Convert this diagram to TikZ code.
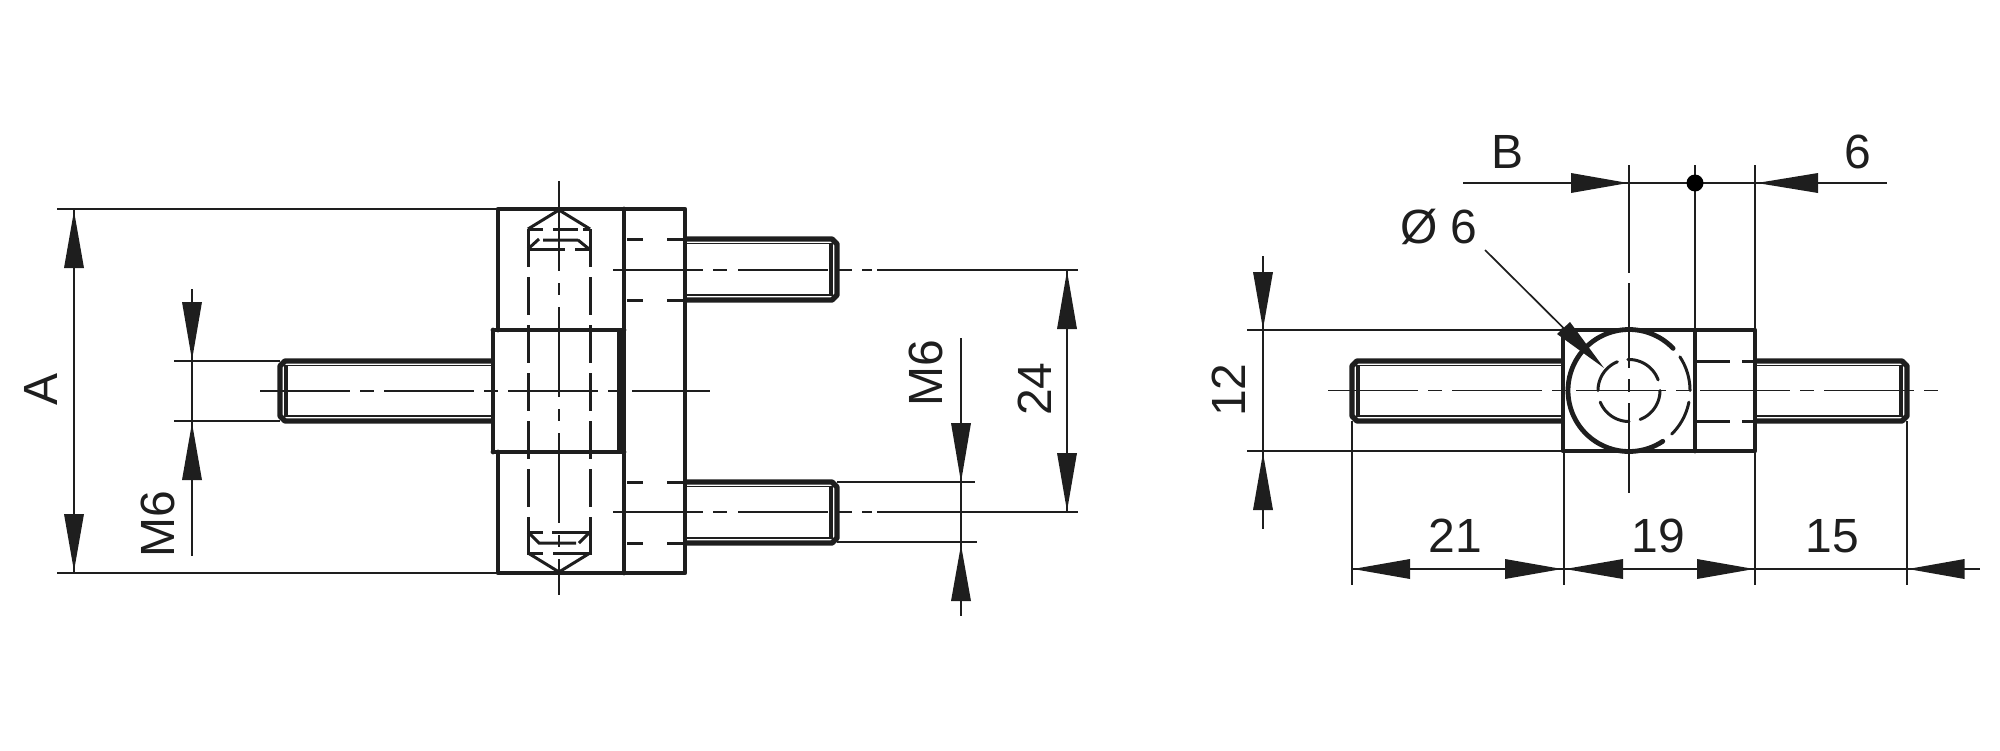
\documentclass[tikz,border=0pt]{standalone}
\usepackage{fontspec}
\setmainfont{Liberation Sans}
\definecolor{ink}{HTML}{1E1E1E}
\tikzset{
  thick line/.style={line width=4.8pt,line cap=round,line join=round,draw=ink},
  stud line/.style={line width=5.4pt,line cap=butt,line join=round,draw=ink},
  thin line/.style={line width=1.7pt,draw=ink},
  hidden line/.style={line width=3pt,draw=ink},
  hidden dash/.style={line width=3pt,draw=ink,dash pattern=on 38pt off 10pt},
  center line/.style={line width=1.7pt,draw=ink,dash pattern=on 90pt off 10pt on 14pt off 10pt},
  label/.style={font=\fontsize{48}{48}\selectfont,text=ink,inner sep=0pt}
}
\newcommand{\varrow}[3]{\fill[ink] (#1,#2) -- (#1-10,#3) -- (#1+10,#3) -- cycle;}
\newcommand{\harrow}[3]{\fill[ink] (#1,#3) -- (#2,#3-10) -- (#2,#3+10) -- cycle;}
% right-pointing stud: root x, end x, top y, bottom y
\newcommand{\rstud}[4]{
  \draw[thin line] (#1,#3+4.5) -- (#2-6,#3+4.5) (#1,#4-5) -- (#2-6,#4-5);
  \draw[line width=3.5pt,draw=ink] (#2-6,#3+4) -- (#2-6,#4-4);
  \draw[stud line] (#1,#3) -- (#2-5,#3) -- (#2,#3+5) -- (#2,#4-5) -- (#2-5,#4) -- (#1,#4);
}
\newcommand{\lstud}[4]{
  \draw[thin line] (#1,#3+4.5) -- (#2+6,#3+4.5) (#1,#4-5) -- (#2+6,#4-5);
  \draw[line width=3.5pt,draw=ink] (#2+6,#3+4) -- (#2+6,#4-4);
  \draw[stud line] (#1,#3) -- (#2+5,#3) -- (#2,#3+5) -- (#2,#4-5) -- (#2+5,#4) -- (#1,#4);
}
\begin{document}
\begin{tikzpicture}[x=1pt,y=-1pt]
\useasboundingbox (0,0) rectangle (2000,750);
% ---------- left view ----------
\draw[thin line] (57,209) -- (498,209) (57,573) -- (498,573);
\draw[thin line] (174,361) -- (280,361) (174,421) -- (280,421);
\draw[thin line] (837,482) -- (975,482) (837,542) -- (977,542);
% studs
\rstud{685}{837}{239}{300}
\rstud{685}{837}{482}{543}
\lstud{493}{280}{361}{421}
% body
\draw[thick line] (498,330) -- (498,209) -- (685,209) -- (685,573) -- (498,573) -- (498,452);
\draw[thick line] (624,209) -- (624,573);
\draw[thick line] (493,330) -- (624,330) (493,452) -- (624,452) (493,330) -- (493,452);
\draw[line width=5pt,draw=ink] (619,330) -- (619,452);
% hidden bore
\draw[hidden dash] (528,229) -- (528,555);
\draw[hidden dash] (590,229) -- (590,555);
\draw[hidden line] (528,229) -- (559,210) -- (590,229);
\draw[hidden line] (528,553) -- (559,572) -- (590,553);
\draw[hidden line] (528,229) -- (528,249) (590,229) -- (590,249);
\draw[hidden line] (528,532) -- (528,553) (590,532) -- (590,553);
\draw[hidden line] (528,229) -- (543,229) (553,229) -- (578,229) (583,229) -- (590,229);
\draw[hidden line] (543,240) -- (578,240) (578,240) -- (589,249) (528,249) -- (539,239);
\draw[hidden line] (528,249) -- (565,249) (575,249) -- (590,249);
\draw[hidden line] (528,532) -- (543,532) (552,532) -- (590,532);
\draw[hidden line] (528,532) -- (539,543) -- (576,543) (579,543) -- (590,532);
\draw[hidden line] (528,553) -- (543,553) (553,553) -- (590,553);
% hidden threads in the plate
\foreach \yy in {239,300,482,543}{
  \draw[hidden line] (627,\yy) -- (643,\yy) (667,\yy) -- (685,\yy);
}
% centre lines
\draw[center line] (260,391) -- (710,391);
\draw[center line,dash pattern=on 90pt off 12pt on 12pt off 12pt] (559,181) -- (559,595);
\foreach \yy in {270,512}{
  \draw[thin line] (613,\yy) -- (703,\yy) (713,\yy) -- (727,\yy) (738,\yy) -- (828,\yy)
    (838,\yy) -- (852,\yy) (862,\yy) -- (872,\yy) (877,\yy) -- (1078,\yy);
}
% dimension A
\draw[thin line] (74,209) -- (74,573);
\varrow{74}{211}{268}
\varrow{74}{571}{514}
\node[label,rotate=90] (dimA) at (41,389) {A};
% dimension M6 left
\draw[thin line] (192,289) -- (192,556);
\varrow{192}{360}{302}
\varrow{192}{423}{480}
\node[label,rotate=90] (mLeft) at (158,524) {M6};
% dimension 24
\draw[thin line] (1067,270) -- (1067,512);
\varrow{1067}{271}{329}
\varrow{1067}{511}{453}
\node[label,rotate=90] (dimTf) at (1035,389) {24};
% dimension M6 right
\draw[thin line] (961,338) -- (961,616);
\varrow{961}{482}{423}
\varrow{961}{545}{601}
\node[label,rotate=90] (mRight) at (926,373) {M6};
% ---------- right view ----------
\draw[thin line] (1247,330) -- (1563,330) (1247,451) -- (1563,451);
\lstud{1563}{1352}{361}{421}
\rstud{1755}{1907}{361}{421}
\draw[thick line] (1563,330) rectangle (1755,451);
\draw[thick line] (1695,330) -- (1695,451);
\foreach \yy in {361,421}{
  \draw[hidden line] (1697,\yy) -- (1730,\yy) (1742,\yy) -- (1755,\yy);
}
% circles
\draw[line width=4.8pt,draw=ink,line cap=round] plot[domain=43.7:303.6,samples=60,smooth] ({1629+61*cos(\x)},{390.5-61*sin(\x)});
\foreach \a/\b in {-45.5/-11,0/33.5}{
  \draw[hidden line,line cap=round] plot[domain=\a:\b,samples=20,smooth] ({1629+61*cos(\x)},{390.5-61*sin(\x)});
}
\foreach \a/\b in {20/92,-69/0,-158/-90,112/180}{
  \draw[hidden line,line cap=round] plot[domain=\a:\b,samples=20,smooth] ({1629+31*cos(\x)},{390.5-31*sin(\x)});
}
% centre lines
\draw[center line] (1328,390.5) -- (1939,390.5);
\draw[thin line] (1629,165) -- (1629,273) (1629,283) -- (1629,368) (1629,379) -- (1629,392) (1629,403) -- (1629,493);
\draw[thin line] (1695,165) -- (1695,330);
\draw[thin line] (1755,165) -- (1755,585);
\draw[thin line] (1564,451) -- (1564,585);
\draw[thin line] (1352,421) -- (1352,585);
\draw[thin line] (1907,421) -- (1907,585);
% top dimension
\draw[thin line] (1463,183) -- (1887,183);
\harrow{1628}{1571}{183}
\harrow{1757}{1818}{183}
\fill[black] (1695,183) circle (8.5);
\node[label] (dimB) at (1507,152) {B};
\node[label] (dimS) at (1858,152) {6};
% diameter
\node[label] (dia) at (1439,227) {Ø 6};
\draw[thin line] (1485,250) -- (1563.5,328);
\fill[ink] (1604,368) -- (1557,334) -- (1570,322) -- cycle;
% dimension 12
\draw[thin line] (1263,256) -- (1263,529);
\varrow{1263}{329}{272}
\varrow{1263}{453}{510}
\node[label,rotate=90] (dimTw) at (1229,390) {12};
% bottom dimensions
\draw[thin line] (1352,569) -- (1980,569);
\harrow{1353}{1410}{569}
\harrow{1562}{1505}{569}
\harrow{1565}{1623}{569}
\harrow{1754}{1697}{569}
\harrow{1908}{1964.5}{569}
\node[label] (dA) at (1455,536) {21};
\node[label] (dB) at (1658,536) {19};
\node[label] (dC) at (1832,536) {15};
\end{tikzpicture}
\end{document}
